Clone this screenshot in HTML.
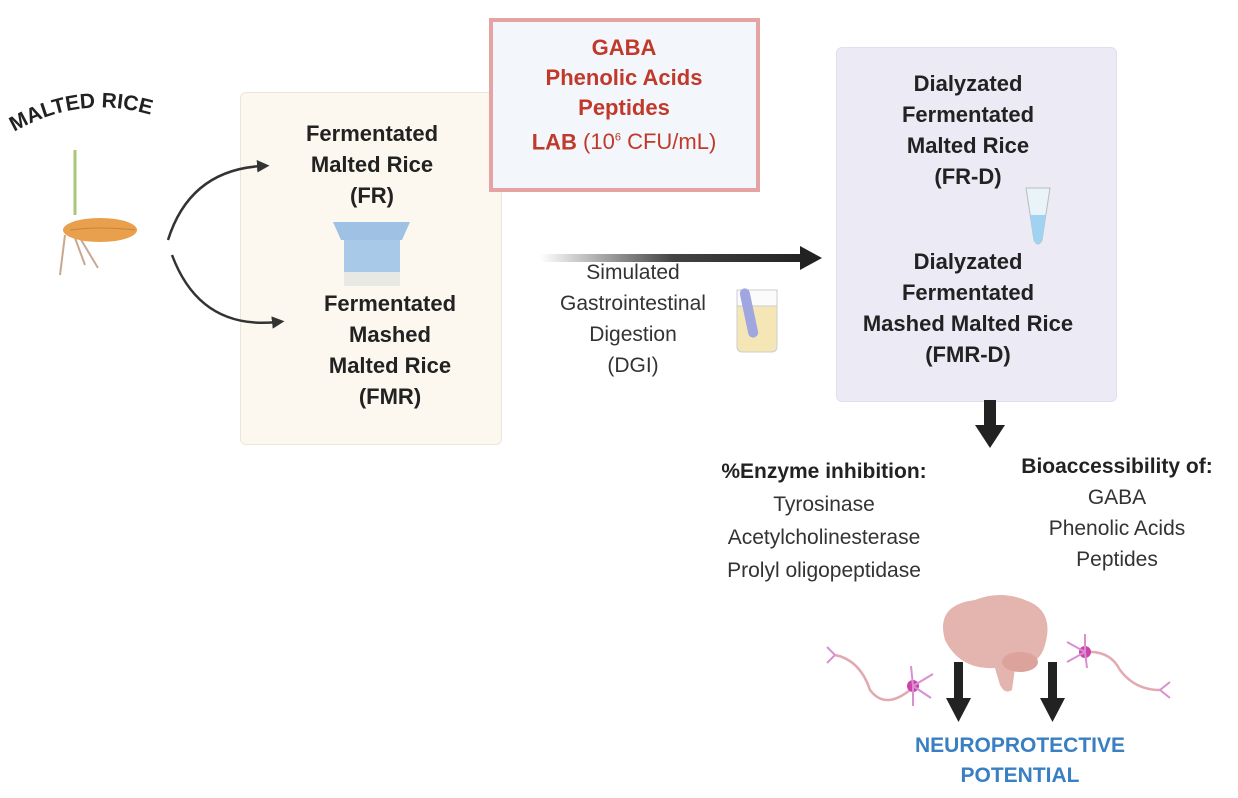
<!DOCTYPE html>
<html><head><meta charset="utf-8"><style>
body{margin:0;width:1238px;height:798px;background:#fff;position:relative;overflow:hidden;font-family:"Liberation Sans",Arial,sans-serif;}
.t{position:absolute;text-align:center;white-space:nowrap;transform:translateX(-50%);line-height:31px;}
.b{font-weight:bold;color:#222;font-size:22px;}
.n{color:#333;font-size:21px;}
</style></head><body>
<div style="position:absolute;left:240px;top:92px;width:260px;height:351px;background:#fcf8ef;border:1px solid #ece6da;border-radius:6px"></div>
<div style="position:absolute;left:489px;top:18px;width:263px;height:166px;background:#f3f7fb;border:4px solid #e6a3a3"></div>
<div style="position:absolute;left:836px;top:47px;width:279px;height:353px;background:#ecebf5;border:1px solid #e0dff0;border-radius:6px"></div>

<svg width="1238" height="798" style="position:absolute;left:0;top:0">
<defs>
<linearGradient id="g" x1="0" x2="1"><stop offset="0" stop-color="#fff"/><stop offset="0.5" stop-color="#444"/><stop offset="1" stop-color="#222"/></linearGradient>
<marker id="ah" markerWidth="5" markerHeight="5" refX="2" refY="2.5" orient="auto"><path d="M0,0L5,2.5L0,5z" fill="#333"/></marker>
<path id="arc" d="M14,132 Q95,85 185,128" fill="none"/>
</defs>
<text font-family="Liberation Sans" font-weight="bold" font-size="21" fill="#222"><textPath href="#arc" startOffset="0">MALTED RICE</textPath></text>
<!-- rice -->
<line x1="75" y1="150" x2="75" y2="215" stroke="#a9c77a" stroke-width="3"/>
<path d="M65,235 L60,275 M75,238 L85,265 M80,238 L98,268" stroke="#c9a890" stroke-width="2" fill="none"/>
<ellipse cx="100" cy="230" rx="37" ry="12" fill="#e8a04c"/>
<path d="M70,230 Q100,226 135,230" stroke="#c8843a" fill="none"/>
<!-- curved arrows -->
<path d="M168,240 Q190,170 262,166" stroke="#333" stroke-width="2.5" fill="none" marker-end="url(#ah)"/>
<path d="M172,255 Q200,330 277,322" stroke="#333" stroke-width="2.5" fill="none" marker-end="url(#ah)"/>
<!-- cup -->
<path d="M333,222 L410,222 L402,240 L341,240z" fill="#9fc1e4"/>
<rect x="344" y="240" width="56" height="44" fill="#a9c9e8"/>
<rect x="344" y="272" width="56" height="14" fill="#e8e8e4"/>
<!-- main arrow -->
<rect x="540" y="254" width="265" height="8" fill="url(#g)"/>
<path d="M800,246 L822,258 L800,270z" fill="#222"/>
<!-- beaker -->
<rect x="737" y="290" width="40" height="62" rx="5" fill="#f5e7b5" stroke="#ccc"/>
<rect x="737" y="290" width="40" height="16" fill="#fbfbfb" stroke="#ccc"/>
<rect x="744" y="288" width="10" height="50" rx="5" fill="#9fa6e0" transform="rotate(-12 749 313)"/>
<!-- tube -->
<path d="M1026,188 L1050,188 L1042,240 Q1038,248 1034,240z" fill="#e8f3fa" stroke="#bbb"/>
<path d="M1030,215 L1046,215 L1042,240 Q1038,248 1034,240z" fill="#9fd3f1"/>
<!-- down arrow -->
<rect x="984" y="400" width="12" height="28" fill="#222"/>
<path d="M975,425 L1005,425 L990,448z" fill="#222"/>
<!-- brain -->
<path d="M945,640 Q935,605 975,600 Q1000,590 1025,600 Q1055,610 1045,645 Q1040,665 1015,668 L1012,690 Q1005,695 1000,685 L995,668 Q960,670 945,640z" fill="#e4b4ae"/>
<ellipse cx="1020" cy="662" rx="18" ry="10" fill="#dca39d"/>
<!-- neurons -->
<path d="M835,655 Q860,660 870,690 Q885,710 910,690" stroke="#e2a9b0" stroke-width="2.5" fill="none"/>
<circle cx="913" cy="686" r="6" fill="#cc44aa"/>
<path d="M913,686 l20,-12 M913,686 l18,12 M913,686 l-2,-20 M913,686 l0,20 M835,655 l-8,-8 M835,655 l-8,8" stroke="#d98fd0" stroke-width="2"/>
<path d="M1085,652 Q1110,650 1120,670 Q1135,690 1160,690" stroke="#e2a9b0" stroke-width="2.5" fill="none"/>
<circle cx="1085" cy="652" r="6" fill="#cc44aa"/>
<path d="M1085,652 l-18,-10 M1085,652 l-18,10 M1085,652 l0,-18 M1085,652 l2,16 M1160,690 l10,-8 M1160,690 l10,8" stroke="#d98fd0" stroke-width="2"/>
<rect x="954" y="662" width="9" height="40" fill="#222"/><path d="M946,698 L971,698 L958.5,722z" fill="#222"/>
<rect x="1048" y="662" width="9" height="40" fill="#222"/><path d="M1040,698 L1065,698 L1052.5,722z" fill="#222"/>
</svg>

<div class="t b" style="left:624px;top:33px;color:#c0392b;line-height:30px">GABA<br>Phenolic Acids<br>Peptides<br>LAB <span style="font-weight:normal">(10<sup style="font-size:11px">6</sup> CFU/mL)</span></div>
<div class="t b" style="left:372px;top:118px">Fermentated<br>Malted Rice<br>(FR)</div>
<div class="t b" style="left:390px;top:288px">Fermentated<br>Mashed<br>Malted Rice<br>(FMR)</div>
<div class="t n" style="left:633px;top:257px">Simulated<br>Gastrointestinal<br>Digestion<br>(DGI)</div>
<div class="t b" style="left:968px;top:68px">Dialyzated<br>Fermentated<br>Malted Rice<br>(FR-D)</div>
<div class="t b" style="left:968px;top:246px">Dialyzated<br>Fermentated<br>Mashed Malted Rice<br>(FMR-D)</div>
<div class="t b" style="left:824px;top:455px;font-size:21px;line-height:33px">%Enzyme inhibition:<br><span class="n" style="font-weight:normal">Tyrosinase<br>Acetylcholinesterase<br>Prolyl oligopeptidase</span></div>
<div class="t b" style="left:1117px;top:451px;font-size:21px">Bioaccessibility of:<br><span class="n" style="font-weight:normal">GABA<br>Phenolic Acids<br>Peptides</span></div>
<div class="t" style="left:1020px;top:731px;color:#3a7fc1;font-weight:bold;font-size:21px;line-height:30px">NEUROPROTECTIVE<br>POTENTIAL</div>
</body></html>
